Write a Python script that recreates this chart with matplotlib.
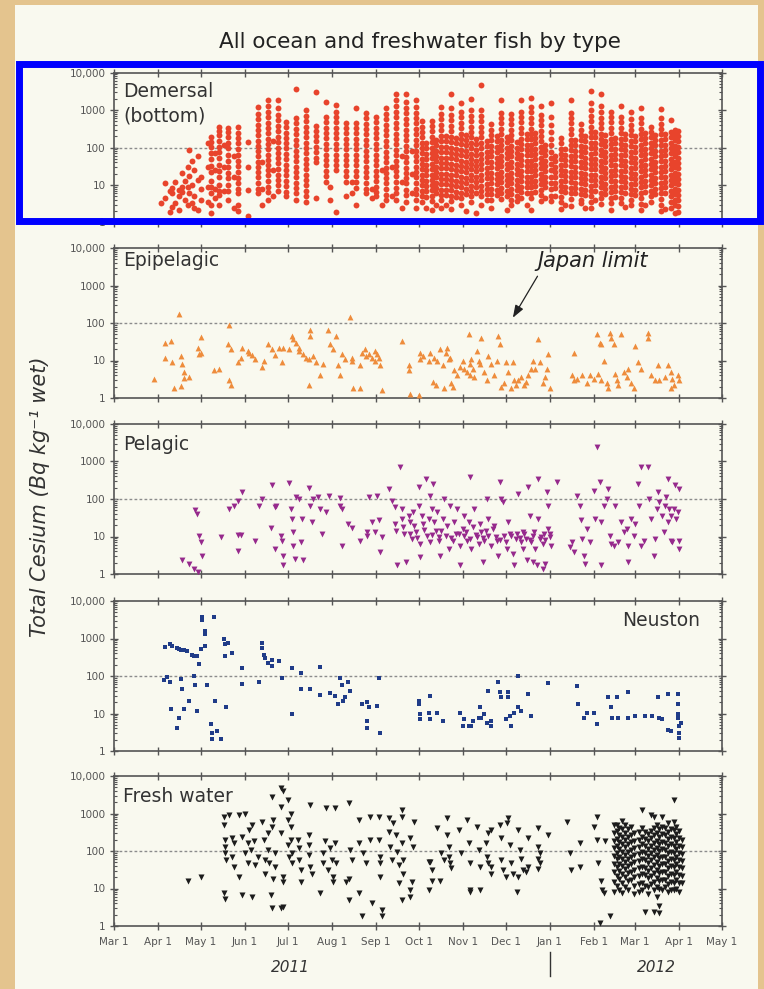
import numpy as np
import matplotlib
matplotlib.use("Agg")
import matplotlib.pyplot as plt
from matplotlib.patches import Rectangle
from matplotlib.ticker import LogLocator, NullFormatter

plt.rcParams['font.family'] = 'DejaVu Sans'

start = np.datetime64('2011-03-01')

month_starts = ['2011-03-01', '2011-04-01', '2011-05-01', '2011-06-01', '2011-07-01',
                '2011-08-01', '2011-09-01', '2011-10-01', '2011-11-01', '2011-12-01',
                '2012-01-01', '2012-02-01', '2012-03-01', '2012-04-01', '2012-05-01']
month_labels = ['Mar 1', 'Apr 1', 'May 1', 'Jun 1', 'Jul 1', 'Aug 1', 'Sep 1', 'Oct 1',
                'Nov 1', 'Dec 1', 'Jan 1', 'Feb 1', 'Mar 1', 'Apr 1', 'May 1']
ytick_vals = [1, 10, 100, 1000, 10000]
ytick_labels = ['1', '10', '100', '1000', '10,000']
japan_limit = 100

# demersal: sampling day (days after Mar 1 2011) and the values of each column
dem_days = [33, 36, 39, 41, 43, 46, 48, 50, 52, 53, 55, 56, 59, 61, 66, 68, 71, 74, 77, 80,
            84, 87, 94, 101, 104, 108, 112, 115, 121, 128, 135, 142, 149, 152, 156, 163,
            167, 170, 177, 181, 184, 188, 191, 195, 198, 202, 205, 209, 212,
            216, 219, 223, 226, 230, 233, 237, 240, 244, 247, 251, 254, 258, 262, 265,
            269, 272, 276, 279, 283, 286, 290, 293, 296, 300, 303, 307, 310, 314, 317,
            321, 324, 328, 331, 335, 338, 342, 345, 349, 352, 356, 359, 363, 366, 370,
            373, 377, 380, 384, 387, 391, 394, 396]
dem_vals = [
    [3.3], [11, 4.5], [1.9, 7], [8.4, 6.1, 2.6], [3.3, 12], [7.4, 5, 2.1], [21, 6.5, 9],
    [4, 13], [8.9, 30, 3], [87, 6.1, 17], [3.3, 10, 45], [25, 5, 2.4], [13.7, 2.2, 60],
    [4, 16, 8], [133, 30, 9, 3.5],
    [190, 140, 105, 72, 50, 33, 22, 13, 9, 6, 3, 1.8], [70, 25, 8, 4.5],
    [360, 280, 220, 145, 105, 75, 52, 35, 24, 16, 10, 7, 5.5, 3], [120, 30, 7],
    [340, 260, 190, 130, 95, 65, 45, 30, 21, 15, 10, 7, 4], [60, 16, 2.5],
    [360, 250, 180, 130, 90, 65, 45, 32, 22, 15, 11, 8, 6, 3, 2], [140, 30, 7.4, 1.5],
    [1200, 800, 560, 400, 290, 210, 150, 110, 80, 58, 42, 30, 22, 16, 11, 8, 6],
    [40, 8, 3],
    [1900, 1300, 900, 640, 460, 330, 240, 170, 125, 90, 65, 47, 34, 25, 18, 13, 9, 6.5, 4],
    [150, 25, 5],
    [1900, 1100, 750, 530, 380, 270, 195, 140, 100, 72, 52, 38, 27, 19, 14, 10, 7],
    [490, 350, 250, 180, 130, 95, 68, 49, 35, 25, 18, 13, 9.5, 6.5, 5],
    [3700, 600, 440, 310, 225, 160, 115, 83, 60, 43, 31, 22, 16, 11.5, 8.3, 6, 4],
    [1000, 700, 500, 360, 260, 185, 135, 97, 70, 50, 36, 26, 19, 13.5, 9.7, 7, 5, 3.5],
    [3000, 380, 280, 200, 145, 105, 75, 54, 40, 4.5],
    [1650, 650, 470, 340, 245, 175, 125, 90, 65, 47, 34, 24, 17, 12],
    [9, 4],
    [1400, 900, 650, 470, 340, 245, 175, 125, 90, 65, 47, 34, 25, 1.9],
    [450, 330, 240, 170, 125, 90, 65, 47, 34, 24, 17, 12, 5],
    [12, 6],
    [1150, 450, 330, 240, 170, 125, 90, 65, 47, 34, 24, 17, 12, 8.5, 3],
    [850, 600, 430, 310, 225, 160, 115, 83, 60, 43, 31, 22, 16, 11, 8, 6],
    [4.5, 8],
    [660, 470, 340, 245, 175, 125, 90, 65, 47, 34, 24, 17, 12.5, 9, 6.5, 5],
    [25, 3],
    [1150, 800, 570, 410, 295, 210, 150, 108, 78, 56, 40, 29, 21, 15, 11, 8, 5.5, 4],
    [30, 5],
    [2600, 1800, 1250, 900, 640, 460, 330, 235, 170, 122, 88, 63, 45, 32, 23, 17, 12, 8.5,
     6, 4],
    [60, 12, 2.5],
    [2600, 1600, 1150, 820, 590, 420, 300, 215, 155, 110, 80, 57, 41, 29, 21, 15, 11, 7.5,
     5.5, 3.5],
    [80, 20, 6],
    [1900, 1200, 850, 610, 440, 315, 225, 160, 115, 83, 60, 43, 31, 22, 16, 11.5, 8, 5.8, 4,
     2.5],
    [500, 360, 260, 185, 135, 97, 70, 50, 36, 26, 19, 13.5, 9.7, 7, 5, 3.6],
    [130, 95, 68, 49, 35, 25, 18, 13, 9.4, 6.8, 4.9, 2.5],
    [520, 370, 270, 195, 140, 100, 72, 52, 37, 27, 19, 14, 10, 7.2, 5.2, 3.7, 2.2],
    [160, 115, 83, 60, 43, 31, 22, 16, 11.5, 8.3, 6, 3],
    [1200, 800, 560, 400, 285, 205, 147, 105, 76, 54, 39, 28, 20, 14.5, 10.4, 7.5, 5.4, 3.9,
     2.5],
    [200, 145, 104, 75, 54, 39, 28, 20, 14.4, 10.4, 7.5, 5.4, 3],
    [2600, 1100, 750, 530, 380, 270, 195, 140, 100, 72, 52, 37, 27, 19, 14, 10, 7.2, 5.2,
     3.7, 2.3],
    [180, 130, 93, 67, 48, 35, 25, 18, 13, 9.3, 6.7, 4.8],
    [1500, 900, 640, 460, 330, 235, 170, 122, 88, 63, 45, 32, 23, 16.6, 12, 8.6, 6.2, 4.4, 3],
    [220, 160, 115, 82, 59, 42, 30, 22, 15.6, 11.2, 8, 5.8, 2],
    [2000, 1000, 700, 500, 360, 260, 185, 133, 96, 69, 50, 36, 26, 18.5, 13.3, 9.6, 6.9, 5,
     3.5],
    [170, 122, 88, 63, 45, 32, 23, 16.6, 12, 8.6, 6.2, 1.8],
    [4600, 1000, 700, 500, 360, 260, 185, 133, 96, 69, 50, 36, 26, 18.5, 13.3, 9.6, 6.9, 5, 3],
    [150, 108, 78, 56, 40, 29, 21, 15, 10.8, 7.8, 5.6, 4],
    [420, 300, 215, 155, 112, 80, 58, 42, 30, 21.5, 15.5, 11, 8, 5.8, 4.1, 2.4],
    [200, 145, 104, 75, 54, 39, 28, 20, 14.4, 10.4, 7.5, 5.4],
    [1800, 850, 610, 440, 315, 227, 163, 117, 84, 61, 44, 31.5, 22.7, 16.3, 11.7, 8.4, 6, 4.3],
    [190, 137, 98, 71, 51, 37, 26, 19, 13.6, 9.8, 7, 5, 2.2],
    [800, 575, 415, 300, 215, 155, 111, 80, 58, 41.5, 30, 21.5, 15.5, 11.1, 8, 5.8, 4.1, 3],
    [140, 100, 72, 52, 37, 27, 19.3, 13.9, 10, 7.2, 5.2, 3.7],
    [1800, 900, 650, 470, 335, 240, 173, 125, 90, 65, 46.5, 33.5, 24, 17.3, 12.5, 9, 6.5, 4.6],
    [230, 165, 119, 86, 62, 44.5, 32, 23, 16.5, 11.9, 8.6, 6.2, 3],
    [2100, 1200, 860, 620, 445, 320, 230, 165, 119, 86, 62, 44.5, 32, 23, 16.5, 11.9, 8.6,
     6.2, 4.4, 2.2],
    [250, 180, 130, 93, 67, 48, 34.5, 25, 18, 12.9, 9.3, 6.7],
    [1300, 750, 540, 390, 280, 200, 145, 104, 75, 54, 39, 28, 20, 14.4, 10.4, 7.5, 5.4, 3.8],
    [120, 86, 62, 44.5, 32, 23, 16.5, 11.9, 8.6, 4.5],
    [1500, 650, 400, 260, 170, 115, 78, 53, 36, 24.5, 16.6, 11.3, 7.7, 5.2, 3.8],
    [60, 43, 31, 22, 16, 11.5, 8.3, 5],
    [180, 130, 94, 68, 49, 35, 25, 18, 13, 9.4, 6.8, 4.9, 3.5, 2.3],
    [90, 65, 47, 34, 24, 17.5, 12.6, 9, 6.5, 3],
    [1800, 850, 610, 440, 315, 227, 163, 117, 84, 61, 44, 31.5, 22.7, 16.3, 11.7, 8.4, 6, 4.3,
     2.7],
    [160, 115, 83, 60, 43, 31, 22, 16, 11.5, 8.3, 6],
    [420, 300, 215, 155, 112, 80, 58, 42, 30, 21.5, 15.5, 11, 8, 5.8, 4.1, 3.3],
    [200, 145, 104, 75, 54, 39, 28, 20, 14.4, 10.4, 7.5, 5.4, 2.5],
    [3200, 1500, 1000, 700, 500, 360, 260, 185, 133, 96, 69, 50, 36, 26, 18.5, 13.3, 9.6, 6.9,
     5, 3.6, 2.4],
    [260, 187, 135, 97, 70, 50, 36, 26, 18.7, 13.5, 9.7, 7, 4],
    [2600, 1250, 880, 630, 455, 325, 235, 170, 122, 88, 63, 45, 32.5, 23.4, 16.8, 12.1, 8.7,
     6.3, 4.5, 3.2],
    [210, 150, 108, 78, 56, 40, 29, 21, 15, 10.8, 7.8, 5.6],
    [900, 650, 470, 335, 240, 173, 125, 90, 65, 46.5, 33.5, 24, 17.3, 12.5, 9, 6.5, 4.6, 3.3,
     2.1],
    [180, 130, 94, 68, 49, 35, 25, 18, 13, 9.4, 6.8, 4.9],
    [1250, 650, 470, 335, 240, 173, 125, 90, 65, 46.5, 33.5, 24, 17.3, 12.5, 9, 6.5, 4.6, 3.3],
    [230, 165, 119, 86, 62, 44.5, 32, 23, 16.5, 11.9, 8.6, 6.2, 2.6],
    [900, 560, 400, 290, 210, 150, 108, 78, 56, 40, 29, 21, 15, 10.8, 7.8, 5.6, 4, 3],
    [200, 145, 104, 75, 54, 39, 28, 20, 14.4, 10.4, 7.5, 5.4],
    [1150, 620, 445, 320, 230, 165, 119, 86, 62, 44.5, 32, 23, 16.5, 11.9, 8.6, 6.2, 4.4, 3.2,
     2.2],
    [250, 180, 130, 93, 67, 48, 34.5, 25, 18, 12.9, 9.3, 6.7, 3],
    [360, 260, 187, 135, 97, 70, 50, 36, 26, 18.7, 13.5, 9.7, 7, 5, 3.6],
    [220, 160, 115, 82, 59, 42, 30, 22, 15.6, 11.2, 8, 5.8],
    [1050, 600, 430, 310, 225, 160, 115, 83, 60, 43, 31, 22, 16, 11.5, 8.3, 6, 4.3, 3, 2],
    [230, 165, 119, 86, 62, 44.5, 32, 23, 16.5, 11.9, 8.6, 6.2, 2.3],
    [550, 260, 187, 135, 97, 70, 50, 36, 26, 18.7, 13.5, 9.7, 7, 5, 3.6, 2.5],
    [300, 215, 155, 112, 80, 58, 42, 30, 21.5, 15.5, 11, 8, 5.8, 4.1, 2.9, 1.8],
    [280, 200, 145, 104, 75, 54, 39, 28, 20, 14.4, 10.4, 7.5, 5.4, 3.9, 2.8, 1.9],
]

# epipelagic (day, Bq/kg)
epi_pts = [
    (28, 3.2), (36, 30), (40, 33), (36, 11.5), (41, 9), (46, 175), (47, 13.5), (48, 8),
    (49, 5), (49, 3.5), (42, 1.9), (47, 2.1), (53, 3.6), (59, 22), (60, 15), (61, 42),
    (61, 16), (70, 5.5), (74, 6), (80, 27), (81, 90), (82, 20), (82, 2.2), (81, 3.1), (87, 9),
    (89, 12), (90, 22), (94, 18), (95, 16), (97, 14), (99, 11), (104, 6.7), (105, 10),
    (108, 27), (111, 20), (113, 14), (116, 22), (118, 9), (119, 22), (123, 20), (125, 45),
    (126, 37), (128, 30), (130, 22), (130, 18), (133, 15), (135, 12), (137, 11), (137, 2.2),
    (140, 13.5), (138, 67), (138, 45), (142, 9), (145, 4), (147, 8), (150, 67), (152, 27),
    (154, 20), (156, 45), (157, 7.4), (159, 4), (160, 15), (162, 11), (166, 145), (167, 12),
    (167, 10), (168, 1.8), (173, 1.9), (173, 7.4), (174, 16), (176, 20), (177, 13.5),
    (179, 15), (181, 12), (183, 18), (183, 10), (185, 15), (186, 12), (187, 7.4), (188, 1.6),
    (202, 33), (207, 7.4), (207, 5.5), (208, 1.3), (214, 1.2), (215, 16), (215, 11),
    (217, 13.5), (221, 10), (222, 16), (224, 2.7), (225, 12), (226, 2.2), (227, 10),
    (229, 20), (231, 7.4), (232, 1.8), (233, 16), (234, 22), (235, 11), (236, 12), (237, 2.5),
    (238, 2), (239, 5.5), (241, 4), (243, 6.7), (245, 10), (246, 6), (248, 5), (249, 50),
    (250, 8), (250, 4), (251, 11), (252, 6), (253, 3.7), (255, 18), (256, 10), (257, 8),
    (258, 40), (260, 5), (262, 3), (263, 13.5), (265, 8), (267, 4), (269, 10), (270, 45),
    (271, 27), (272, 2), (274, 2.5), (275, 9), (277, 5), (279, 1.8), (280, 9), (281, 3),
    (282, 2.2), (284, 3), (286, 3.7), (288, 2.2), (289, 2.7), (291, 4), (293, 6), (294, 10),
    (296, 6), (298, 37), (299, 9), (301, 2.5), (303, 3.7), (304, 6), (305, 15), (306, 1.8),
    (323, 16), (322, 4), (323, 3), (325, 3.3), (329, 4), (332, 2.5), (334, 4), (337, 3.3),
    (339, 50), (341, 30), (342, 27), (340, 4.5), (342, 3), (344, 10), (346, 2.5), (347, 1.8),
    (348, 55), (349, 40), (351, 27), (352, 4.5), (353, 3), (354, 2.2), (356, 50), (358, 5),
    (360, 3.7), (361, 6), (363, 2.5), (365, 1.8), (366, 25), (368, 9), (370, 6), (375, 55),
    (375, 40), (377, 4), (380, 3), (382, 7.4), (383, 3), (387, 3.7), (389, 7.4), (391, 5),
    (391, 1.8), (392, 3.3), (393, 2.2), (396, 4), (397, 3),
]

# pelagic (day, Bq/kg)
pel_pts = [
    (48, 2.3), (53, 1.85), (56, 1.4), (59, 1.15), (57, 50), (58, 40), (60, 10.5), (61, 7),
    (62, 3.1), (75, 9.5), (81, 54), (84, 66), (87, 90), (90, 150), (87, 11), (89, 11),
    (87, 4.2), (99, 7.7), (102, 66), (104, 100), (110, 17), (111, 230), (113, 60), (113, 4.6),
    (114, 66), (117, 10.5), (118, 7.7), (119, 3.1), (119, 1.7), (123, 270), (124, 54),
    (125, 30), (126, 13), (126, 5.7), (127, 2.5), (128, 110), (130, 100), (131, 7), (132, 30),
    (133, 2.3), (137, 200), (138, 66), (139, 24), (140, 100), (143, 110), (145, 54),
    (146, 11.7), (149, 46), (151, 118), (159, 104), (159, 66), (160, 54), (160, 5.7),
    (164, 21), (167, 17), (173, 7.7), (178, 10.5), (178, 13), (179, 110), (181, 24),
    (183, 13), (185, 122), (186, 27), (187, 3.8), (188, 9.5), (193, 185), (195, 90),
    (197, 60), (197, 21), (198, 14.3), (199, 1.7), (201, 700), (202, 54), (202, 30),
    (203, 17.5), (204, 11.7), (205, 2.05), (207, 36), (208, 24), (209, 8.6), (210, 44),
    (211, 19), (212, 13), (214, 205), (214, 66), (215, 6.3), (215, 2.8), (216, 36), (217, 21),
    (219, 340), (220, 10.5), (221, 30), (222, 122), (222, 7), (223, 54), (224, 250), (225, 24),
    (226, 14.3), (227, 44), (228, 7.7), (229, 3.1), (231, 30), (232, 100), (233, 10.5),
    (234, 19), (235, 4.6), (236, 66), (238, 7.7), (239, 24), (240, 11.7), (241, 54),
    (243, 5.7), (243, 1.7), (245, 16), (246, 10.5), (246, 36), (248, 7.7), (249, 24),
    (250, 380), (250, 8.6), (251, 4.6), (252, 17.5), (253, 54), (255, 9.5), (256, 6.3),
    (257, 21), (258, 13), (259, 2.05), (260, 7.7), (262, 100), (263, 30), (263, 10.5),
    (265, 5.7), (266, 16), (267, 19), (269, 7.7), (270, 3.1), (271, 280), (272, 100),
    (273, 82), (274, 10.5), (275, 7), (276, 4.6), (277, 24), (279, 10.5), (280, 3.4),
    (281, 1.7), (282, 8.6), (283, 11.7), (284, 135), (286, 7), (287, 4.6), (287, 13),
    (289, 8.6), (290, 2.3), (291, 205), (292, 36), (293, 7), (294, 10.5), (294, 2.05),
    (296, 4.6), (297, 1.7), (298, 340), (298, 30), (299, 8.6), (301, 1.35), (301, 6.3),
    (302, 11.7), (303, 1.85), (304, 150), (305, 66), (305, 16), (306, 9.5), (307, 5.7),
    (311, 280),
    (208, 12), (213, 9), (218, 15), (223, 11), (228, 9.5), (230, 14), (237, 9), (242, 12),
    (247, 13), (254, 11), (259, 9), (261, 14), (268, 10), (271, 8), (278, 12), (285, 9),
    (288, 12), (292, 8), (295, 13), (300, 10), (303, 8), (306, 12),
    (320, 5.1), (322, 7), (323, 3.8), (325, 122), (327, 66), (328, 27), (329, 8.6), (330, 3.1),
    (331, 1.85), (332, 16), (334, 7), (337, 165), (338, 30), (339, 2400), (341, 280),
    (342, 1.7), (342, 24), (344, 66), (346, 100), (347, 185), (348, 10.5), (349, 6.3),
    (351, 5.7), (352, 66), (354, 7), (356, 24), (358, 13), (360, 16), (361, 5.7), (361, 2.05),
    (363, 30), (365, 10.5), (366, 21), (368, 250), (369, 66), (370, 700), (370, 5.7),
    (372, 7.7), (375, 700), (376, 100), (377, 30), (379, 3.1), (380, 8.6), (381, 54),
    (382, 150), (383, 82), (385, 36), (386, 13), (387, 66), (388, 110), (389, 24), (389, 340),
    (390, 54), (391, 7.7), (391, 36), (392, 7), (393, 54), (394, 230), (395, 30), (396, 44),
    (397, 185), (397, 7.7), (397, 4.6),
]

# neuston (day, Bq/kg)
neu_pts = [
    (35, 78), (37, 95), (39, 70), (36, 590), (39, 700), (41, 630), (40, 13), (44, 4.1),
    (46, 7.8), (44, 570), (46, 510), (47, 480), (47, 85), (48, 46), (49, 13), (49, 480),
    (51, 460), (53, 22), (55, 370), (56, 340), (56, 100), (57, 57), (58, 12), (58, 340),
    (60, 210), (61, 510), (62, 3700), (62, 3200), (64, 1600), (64, 1300), (64, 630), (65, 57),
    (68, 5.1), (69, 3), (69, 2.1), (71, 22), (72, 3.4), (75, 2.1), (70, 3700), (77, 960),
    (78, 700), (79, 14.6), (78, 340), (80, 780), (83, 410), (90, 160), (90, 63), (102, 70),
    (104, 780), (104, 570), (105, 370), (106, 300), (108, 220), (111, 270), (111, 190),
    (116, 250), (118, 90), (125, 9.6), (125, 160), (131, 118), (131, 46), (138, 46),
    (145, 170), (145, 32), (152, 36), (155, 30), (157, 18), (159, 86), (160, 57), (161, 22),
    (162, 27), (164, 70), (166, 41), (174, 18), (178, 20), (179, 14.6), (178, 6.3),
    (178, 4.1), (185, 16), (186, 86), (187, 3), (214, 22), (214, 18), (215, 9.6), (215, 7),
    (221, 10.6), (222, 30), (222, 7), (227, 10.6), (231, 6.3), (243, 10.6), (245, 4.6),
    (246, 7), (249, 4.6), (251, 4.6), (252, 6.3), (256, 7.8), (257, 14.6), (258, 7.8),
    (260, 9.6), (262, 5.7), (263, 41), (265, 6.3), (265, 4.6), (270, 70), (271, 37),
    (272, 27), (277, 37), (277, 27), (275, 7), (278, 8.6), (279, 4.6), (281, 10.6),
    (284, 100), (284, 14.6), (286, 11.8), (291, 33), (293, 8.6), (305, 66), (325, 54),
    (326, 18), (330, 7.8), (332, 10.6), (337, 10.6), (339, 5.1), (347, 27), (349, 14.6),
    (350, 7.8), (353, 27), (361, 37), (354, 7.8), (361, 7.8), (366, 8.6), (373, 8.6),
    (378, 8.6), (382, 27), (383, 7.8), (385, 7), (389, 33), (389, 3.7), (391, 3.4),
    (396, 33), (396, 18), (396, 9.6), (396, 7.8), (397, 4.6), (397, 3), (397, 2.2),
    (398, 5.7),
]

# fresh water, scattered samples (day, Bq/kg)
fw_pts = [
    (52, 16), (61, 20), (77, 830), (77, 500), (78, 200), (78, 130), (78, 86), (79, 57),
    (77, 7.4), (78, 5.4), (81, 920), (83, 70), (84, 38), (83, 220), (84, 160), (88, 20),
    (88, 920), (90, 240), (90, 6.6), (92, 86), (94, 160), (92, 1000), (94, 47), (95, 370),
    (96, 105), (97, 500), (98, 180), (97, 6), (99, 42), (101, 70), (104, 600), (105, 200),
    (106, 57), (106, 25), (108, 300), (108, 105), (109, 47), (111, 2800), (111, 450),
    (112, 680), (112, 18), (113, 86), (113, 38), (110, 6.6), (111, 3.1), (117, 4700),
    (119, 3900), (117, 1500), (117, 300), (119, 20), (119, 15), (119, 3.2), (117, 3.1),
    (122, 2300), (122, 680), (122, 145), (123, 70), (124, 450), (124, 200), (125, 86),
    (125, 47), (124, 1000), (129, 200), (130, 118), (130, 57), (131, 31), (131, 15),
    (137, 270), (137, 145), (137, 78), (138, 38), (138, 1700), (139, 25), (145, 7.4),
    (147, 86), (147, 47), (148, 180), (149, 1400), (150, 31), (152, 118), (153, 57),
    (154, 20), (154, 15), (155, 1400), (155, 160), (156, 47), (165, 1900), (165, 18),
    (163, 15), (165, 4.9), (166, 105), (167, 57), (172, 680), (172, 160), (172, 7.4),
    (174, 1.9), (175, 86), (177, 47), (180, 200), (180, 830), (181, 4), (186, 830),
    (186, 200), (187, 70), (187, 47), (188, 2.6), (188, 1.9), (187, 20), (193, 750),
    (193, 330), (194, 130), (195, 57), (196, 560), (198, 270), (199, 95), (200, 42),
    (200, 14), (202, 4.9), (202, 830), (202, 1250), (202, 160), (203, 57), (203, 25),
    (208, 6), (208, 9), (209, 15), (208, 220), (210, 130), (211, 600), (221, 9), (222, 52),
    (223, 31), (223, 16), (221, 52), (227, 400), (229, 16), (230, 86), (232, 57), (234, 750),
    (234, 270), (235, 130), (235, 70), (236, 47), (237, 35), (242, 370), (244, 86),
    (248, 680), (249, 160), (250, 47), (250, 9), (250, 8), (255, 450), (256, 105), (257, 38),
    (257, 9), (261, 160), (262, 70), (263, 47), (263, 300), (265, 25), (265, 370), (265, 38),
    (271, 500), (272, 220), (272, 57), (273, 31), (275, 20), (276, 560), (277, 750),
    (278, 145), (279, 47), (280, 25), (283, 8), (284, 20), (284, 370), (285, 105), (286, 63),
    (287, 31), (289, 28), (291, 220), (291, 38), (298, 130), (298, 63), (298, 34), (298, 400),
    (299, 86), (299, 47), (305, 270), (318, 600), (320, 86), (321, 31), (327, 160), (327, 38),
    (337, 450), (339, 200), (339, 830), (340, 47), (342, 16), (343, 9), (344, 7.4),
    (341, 1.2), (348, 1.9), (345, 180),
]

# fresh water, dense sampling in March 2012: day and the values of each column
fw_mar_days = [351, 353, 355, 357, 359, 361, 363, 365, 369, 371, 373, 375, 377, 379, 381,
               383, 385, 387, 389, 391, 393, 395, 397, 399]
fw_mar_vals = [
    [480, 300, 190, 120, 75, 45, 28, 15, 8],
    [500, 350, 210, 140, 90, 60, 38, 22, 12],
    [420, 260, 170, 110, 70, 45, 30, 18, 9],
    [650, 380, 240, 150, 95, 60, 40, 25, 14, 7.5],
    [500, 310, 200, 130, 80, 52, 33, 20, 11],
    [380, 230, 150, 95, 62, 40, 26, 16, 9],
    [450, 260, 170, 105, 70, 45, 28, 17],
    [300, 190, 120, 80, 50, 32, 20, 12, 7],
    [320, 200, 130, 85, 55, 36, 22, 13, 8],
    [1250, 400, 240, 150, 95, 60, 38, 24, 14, 9],
    [330, 210, 135, 88, 56, 36, 23, 12, 2.4],
    [280, 180, 115, 75, 48, 30, 19, 11, 7],
    [900, 350, 220, 140, 90, 57, 36, 22, 13],
    [830, 420, 260, 165, 105, 68, 43, 26, 15, 9, 2.4],
    [500, 300, 190, 120, 78, 50, 32, 19, 11, 6],
    [380, 240, 155, 100, 64, 41, 26, 16, 10, 3.5, 2.2],
    [800, 450, 280, 175, 110, 70, 45, 28, 17, 9],
    [420, 260, 165, 105, 68, 44, 28, 17, 11],
    [550, 330, 210, 135, 86, 55, 35, 22, 13, 8],
    [380, 240, 150, 96, 62, 40, 25, 15, 9],
    [2300, 600, 360, 220, 140, 90, 58, 37, 23, 14, 9],
    [450, 280, 175, 110, 70, 45, 28, 17, 10],
    [350, 220, 140, 90, 58, 37, 23, 14, 8],
    [200, 130, 85, 55, 35, 22, 14],
]


def to_dates(days):
    return start + np.round(np.asarray(days, float) * 24).astype('timedelta64[h]')


def columns(days, vals):
    xs = [d for d, v in zip(days, vals) for _ in v]
    ys = [y for v in vals for y in v]
    return to_dates(xs), np.array(ys)


def pairs(pts):
    d, v = zip(*pts)
    return to_dates(d), np.array(v)


dem_x, dem_y = columns(dem_days, dem_vals)
epi_x, epi_y = pairs(epi_pts)
pel_x, pel_y = pairs(pel_pts)
neu_x, neu_y = pairs(neu_pts)
fw1_x, fw1_y = pairs(fw_pts)
fw2_x, fw2_y = columns(fw_mar_days, fw_mar_vals)
fw_x = np.concatenate([fw1_x, fw2_x])
fw_y = np.concatenate([fw1_y, fw2_y])

cream = '#f9f9ef'
fig = plt.figure(figsize=(7.64, 9.89), dpi=100, facecolor='#e4c48e')
fig.add_artist(Rectangle((15 / 764, 0), 743 / 764, 1 - 5 / 989, transform=fig.transFigure,
                         facecolor=cream, edgecolor='none', zorder=-5))

left, width, height = 114 / 764, 608 / 764, 150 / 989
bottoms = [1 - 222.5 / 989, 1 - 398 / 989, 1 - 574 / 989, 1 - 751 / 989, 1 - 926 / 989]

series = [
    (dem_x, dem_y, 'o', '#e8442c', 18),
    (epi_x, epi_y, '^', '#ee8c3c', 18),
    (pel_x, pel_y, 'v', '#96298c', 18),
    (neu_x, neu_y, 's', '#203c88', 12),
    (fw_x, fw_y, 'v', '#1c1c1c', 19),
]

axes = []
for i, (b, (x, y, mk, col, sz)) in enumerate(zip(bottoms, series)):
    ax = fig.add_axes([left, b, width, height])
    ax.set_facecolor(cream)
    ax.scatter(x, y, marker=mk, s=sz, color=col, linewidths=0, zorder=3)
    ax.axhline(japan_limit, color='#8c8c8c', lw=1.0, ls=(0, (2, 1.6)), zorder=2)
    ax.set_yscale('log')
    ax.set_ylim(1, 10000)
    ax.set_yticks(ytick_vals)
    ax.set_yticklabels(ytick_labels)
    ax.yaxis.set_minor_locator(LogLocator(base=10, subs=np.arange(2, 10)))
    ax.yaxis.set_minor_formatter(NullFormatter())
    ax.set_xlim(np.datetime64(month_starts[0]), np.datetime64(month_starts[-1]))
    ax.set_xticks([np.datetime64(m) for m in month_starts])
    if i == 4:
        ax.set_xticklabels(month_labels)
    else:
        ax.set_xticklabels([])
    ax.tick_params(axis='y', which='major', direction='inout', length=6, width=1,
                   right=True, labelsize=7.5, labelcolor='#555555', color='#555555', pad=3)
    ax.tick_params(axis='y', which='minor', direction='in', length=2.5, width=0.8,
                   right=True, color='#555555')
    ax.tick_params(axis='x', which='major', direction='inout', length=6, width=1,
                   top=True, labelsize=7.5, labelcolor='#555555', color='#555555', pad=5)
    for s in ax.spines.values():
        s.set_color('#555555')
        s.set_linewidth(1.2)
    axes.append(ax)

lab = dict(fontsize=13.5, color='#333333', va='baseline')
axes[0].text(0.015, 0.837, 'Demersal', transform=axes[0].transAxes, **lab)
axes[0].text(0.015, 0.672, '(bottom)', transform=axes[0].transAxes, **lab)
axes[1].text(0.015, 0.88, 'Epipelagic', transform=axes[1].transAxes, **lab)
axes[2].text(0.015, 0.829, 'Pelagic', transform=axes[2].transAxes, **lab)
axes[3].text(0.964, 0.835, 'Neuston', transform=axes[3].transAxes, ha='right', **lab)
axes[4].text(0.015, 0.827, 'Fresh water', transform=axes[4].transAxes, **lab)

axes[1].annotate('Japan limit', xy=(0.656, 0.535), xycoords='axes fraction',
                 xytext=(0.787, 0.873), textcoords='axes fraction', ha='center',
                 va='baseline', fontsize=15, style='italic', color='#222222',
                 arrowprops=dict(arrowstyle='-|>,head_length=0.5,head_width=0.18',
                                 color='#222222', lw=0.9, relpos=(0.03, 0.0),
                                 shrinkA=2, shrinkB=0))

# year labels under the bottom panel, with the tick at Jan 1 2012
ax5 = axes[4]
tr = ax5.get_xaxis_transform()
ax5.text(np.datetime64('2011-07-03'), -0.28, '2011', transform=tr, ha='center', va='center',
         fontsize=11, style='italic', color='#333333')
ax5.text(np.datetime64('2012-03-16'), -0.28, '2012', transform=tr, ha='center', va='center',
         fontsize=11, style='italic', color='#333333')
ax5.plot([np.datetime64('2012-01-01')] * 2, [-0.17, -0.33], transform=tr, color='#333333',
         lw=1.0, clip_on=False)

fig.text(0.55, 1 - 42 / 989, 'All ocean and freshwater fish by type', ha='center',
         va='center', fontsize=15.5, color='#222222')
fig.text(40 / 764, 1 - 497 / 989, 'Total Cesium (Bq kg⁻¹ wet)', rotation=90, ha='center',
         va='center', fontsize=15, style='italic', color='#333333')

# blue highlight frame around the demersal panel
fig.add_artist(Rectangle((19 / 764, 1 - 221 / 989), 741 / 764, 157.5 / 989,
                         transform=fig.transFigure, fill=False, edgecolor='#0000ff',
                         linewidth=5, zorder=10))

fig.savefig('out.png', dpi=100, facecolor=fig.get_facecolor())
